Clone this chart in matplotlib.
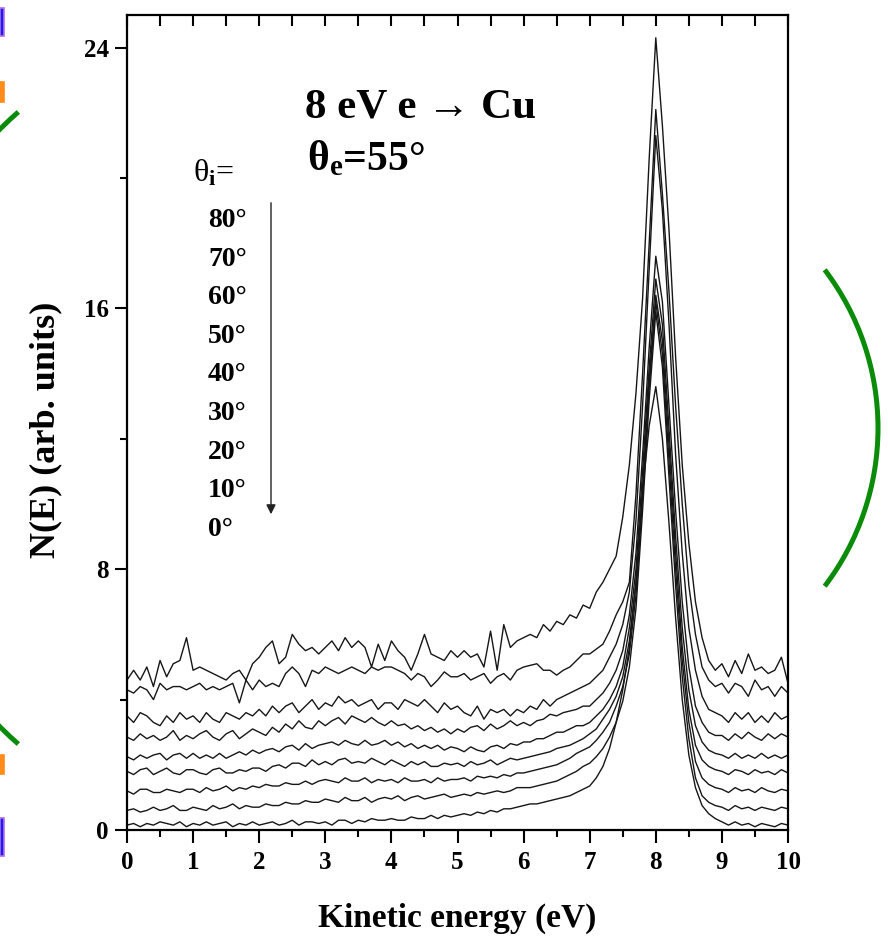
import numpy as np
import matplotlib
matplotlib.use("Agg")
import matplotlib.pyplot as plt
from matplotlib.patches import Arc, Rectangle, FancyArrowPatch
from matplotlib.ticker import MultipleLocator

# ---------------- data ----------------
energy = np.linspace(0.0, 10.0, 101)          # kinetic energy grid (eV)
angles = [80, 70, 60, 50, 40, 30, 20, 10, 0]  # incidence angles (deg)

n80 = [4.6, 4.9, 4.6, 5.0, 4.4, 5.2, 4.7, 5.1, 5.2, 5.9,
       4.9, 5.0, 4.9, 4.8, 4.7, 4.6, 4.8, 4.9, 4.6, 5.1,
       5.3, 5.6, 5.8, 5.1, 5.3, 6.0, 5.7, 5.5, 5.6, 5.4,
       5.6, 5.8, 5.5, 5.9, 5.6, 5.8, 5.6, 5.0, 5.7, 5.2,
       5.8, 5.5, 5.3, 4.9, 5.4, 6.0, 5.4, 5.3, 5.2, 5.5,
       5.3, 5.5, 5.3, 5.4, 5.0, 6.1, 4.9, 6.3, 5.6, 5.8,
       5.9, 6.0, 5.9, 6.3, 6.1, 6.4, 6.3, 6.6, 6.5, 6.9,
       6.8, 7.3, 7.6, 8.0, 8.4, 9.6, 11.2, 13.4, 16.3, 20.6,
       24.3, 21.6, 18.4, 14.5, 11.2, 8.8, 7.0, 5.9, 5.2, 4.9,
       5.1, 4.7, 5.2, 4.8, 5.4, 4.9, 5.0, 4.8, 4.9, 5.3,
       4.5]
n70 = [4.3, 4.2, 4.4, 4.3, 4.0, 4.5, 4.3, 4.4, 4.4, 4.3,
       4.4, 4.5, 4.3, 4.4, 4.3, 4.4, 4.5, 3.9, 4.6, 4.3,
       4.6, 4.4, 4.5, 4.4, 4.8, 5.0, 4.8, 4.4, 4.9, 4.8,
       5.0, 4.9, 4.8, 4.9, 5.0, 4.9, 4.8, 5.0, 4.9, 5.0,
       5.0, 4.9, 4.8, 4.6, 4.8, 4.7, 4.4, 4.6, 4.85, 4.7,
       4.7, 4.8, 4.6, 4.7, 4.8, 4.5, 4.7, 4.8, 4.6, 4.9,
       5.0, 5.05, 5.1, 4.9, 4.9, 4.75, 4.9, 5.0, 5.2, 5.4,
       5.4, 5.55, 5.7, 6.1, 6.6, 7.0, 7.6, 10.3, 14.0, 18.0,
       22.1, 19.5, 16.5, 13.0, 10.0, 7.5, 6.0, 5.0, 4.6, 4.4,
       4.5, 4.2, 4.5, 4.4, 4.1, 4.6, 4.3, 4.4, 4.1, 4.4,
       4.2]
n60 = [3.5, 3.3, 3.6, 3.5, 3.3, 3.2, 3.5, 3.3, 3.6, 3.4,
       3.5, 3.3, 3.6, 3.4, 3.3, 3.6, 3.5, 3.4, 3.6, 3.5,
       3.7, 3.5, 3.8, 3.6, 3.8, 3.9, 3.6, 3.8, 4.0, 3.7,
       3.9, 3.8, 4.1, 3.9, 4.0, 3.8, 3.9, 4.0, 3.7, 3.9,
       3.9, 3.7, 4.0, 3.9, 3.8, 4.0, 3.8, 3.6, 3.9, 3.7,
       3.8, 3.6, 3.5, 3.8, 3.4, 3.7, 3.6, 3.7, 3.5, 3.7,
       3.6, 3.8, 3.7, 4.0, 3.8, 4.0, 4.1, 4.2, 4.3, 4.4,
       4.5, 4.7, 4.9, 5.3, 5.7, 6.3, 7.3, 9.5, 13.0, 17.2,
       21.3, 19.0, 15.5, 11.5, 8.5, 6.2, 4.9, 4.1, 3.7, 3.6,
       3.5, 3.3, 3.6, 3.4, 3.6, 3.3, 3.5, 3.3, 3.6, 3.4,
       3.5]
n50 = [2.85, 2.75, 2.95, 2.8, 2.9, 2.75, 2.85, 3.05, 2.75, 2.9,
       2.8, 2.95, 3.05, 2.85, 2.75, 2.95, 3.05, 2.8, 2.95, 3.1,
       3.0, 2.9, 3.15, 3.0, 3.25, 3.1, 3.35, 3.15, 3.1, 3.35,
       3.2, 3.35, 3.45, 3.25, 3.5, 3.4, 3.3, 3.45, 3.3, 3.2,
       3.35, 3.2, 3.25, 3.1, 3.2, 3.05, 3.15, 3.0, 3.1, 2.95,
       3.1, 3.0, 3.15, 3.2, 3.05, 3.25, 3.1, 3.2, 3.35, 3.2,
       3.3, 3.2, 3.35, 3.4, 3.55, 3.5, 3.6, 3.65, 3.7, 3.8,
       3.8, 4.0, 4.2, 4.5, 4.9, 5.5, 6.6, 8.5, 11.5, 14.8,
       17.6, 16.2, 13.0, 9.8, 7.0, 5.0, 3.8, 3.3, 3.0, 2.9,
       2.9, 2.75, 2.95, 2.8, 3.0, 2.85, 2.75, 2.95, 2.8, 2.95,
       2.85]
n40 = [2.25, 2.15, 2.3, 2.2, 2.3, 2.35, 2.15, 2.3, 2.35, 2.2,
       2.35, 2.2, 2.3, 2.2, 2.35, 2.2, 2.3, 2.4, 2.3, 2.45,
       2.35, 2.45, 2.5, 2.4, 2.55, 2.6, 2.45, 2.65, 2.5, 2.6,
       2.65, 2.7, 2.6, 2.75, 2.65, 2.6, 2.75, 2.6, 2.65, 2.75,
       2.6, 2.7, 2.55, 2.65, 2.5, 2.6, 2.5, 2.6, 2.45, 2.55,
       2.5, 2.4, 2.55, 2.45, 2.4, 2.55, 2.6, 2.5, 2.65, 2.6,
       2.7, 2.7, 2.8, 2.8, 2.9, 3.0, 3.0, 3.1, 3.2, 3.2,
       3.3, 3.5, 3.7, 4.0, 4.4, 5.0, 6.2, 8.0, 11.0, 14.2,
       16.9, 15.5, 12.3, 9.0, 6.2, 4.3, 3.2, 2.7, 2.45, 2.35,
       2.3, 2.2, 2.35, 2.2, 2.3, 2.2, 2.35, 2.2, 2.3, 2.2,
       2.3]
n30 = [1.8, 1.7, 1.85, 1.9, 1.7, 1.8, 1.9, 1.75, 1.7, 1.85,
       1.85, 1.75, 1.7, 1.85, 1.9, 1.75, 1.75, 1.85, 1.8, 1.9,
       1.9, 1.8, 1.95, 2.0, 1.9, 2.05, 2.05, 1.95, 2.15, 2.0,
       2.1, 2.0, 2.15, 2.2, 2.05, 2.1, 2.05, 2.2, 2.1, 2.0,
       2.15, 2.05, 1.95, 2.1, 2.0, 2.1, 1.95, 1.95, 2.05, 2.0,
       2.05, 1.95, 2.1, 2.0, 2.05, 2.15, 2.0, 2.1, 2.2, 2.15,
       2.2, 2.25, 2.3, 2.35, 2.4, 2.5, 2.55, 2.6, 2.7, 2.8,
       2.95, 3.1, 3.4, 3.7, 4.1, 4.7, 5.8, 7.6, 10.5, 13.8,
       16.4, 15.0, 11.8, 8.5, 5.6, 3.7, 2.6, 2.15, 1.95, 1.85,
       1.8, 1.7, 1.85, 1.8, 1.7, 1.85, 1.75, 1.8, 1.7, 1.85,
       1.75]
n20 = [1.2, 1.1, 1.25, 1.25, 1.15, 1.15, 1.25, 1.2, 1.15, 1.25,
       1.25, 1.15, 1.3, 1.2, 1.25, 1.35, 1.2, 1.3, 1.25, 1.35,
       1.3, 1.4, 1.35, 1.35, 1.45, 1.4, 1.4, 1.5, 1.4, 1.5,
       1.55, 1.5, 1.45, 1.6, 1.5, 1.5, 1.6, 1.45, 1.55, 1.5,
       1.55, 1.45, 1.6, 1.5, 1.5, 1.55, 1.45, 1.6, 1.5, 1.55,
       1.55, 1.6, 1.5, 1.65, 1.6, 1.65, 1.6, 1.7, 1.65, 1.75,
       1.75, 1.8, 1.85, 1.9, 1.95, 2.0, 2.1, 2.2, 2.35, 2.45,
       2.55, 2.75, 3.0, 3.3, 3.8, 4.4, 5.4, 7.2, 10.2, 13.6,
       16.2, 14.6, 11.3, 8.0, 5.2, 3.3, 2.1, 1.6, 1.4, 1.3,
       1.25, 1.15, 1.3, 1.2, 1.25, 1.15, 1.3, 1.2, 1.15, 1.25,
       1.2]
n10 = [0.6, 0.65, 0.55, 0.6, 0.7, 0.6, 0.65, 0.75, 0.6, 0.6,
       0.7, 0.65, 0.6, 0.75, 0.65, 0.7, 0.8, 0.65, 0.75, 0.7,
       0.7, 0.8, 0.75, 0.75, 0.85, 0.8, 0.8, 0.9, 0.85, 0.85,
       0.95, 0.9, 0.85, 1.0, 0.9, 0.9, 1.0, 0.85, 0.95, 1.0,
       0.95, 1.05, 0.9, 1.0, 1.05, 0.95, 1.0, 1.05, 1.1, 1.0,
       1.05, 1.1, 1.05, 1.15, 1.1, 1.15, 1.2, 1.15, 1.2, 1.3,
       1.3, 1.3, 1.35, 1.4, 1.45, 1.5, 1.6, 1.7, 1.8, 1.95,
       2.05, 2.25, 2.5, 2.85, 3.3, 3.95, 5.0, 6.8, 9.8, 13.2,
       15.9, 14.2, 10.8, 7.5, 4.7, 2.8, 1.6, 1.05, 0.85, 0.75,
       0.7, 0.6, 0.75, 0.65, 0.7, 0.6, 0.7, 0.65, 0.6, 0.7,
       0.65]
n0 = [0.15, 0.2, 0.1, 0.2, 0.15, 0.25, 0.2, 0.15, 0.25, 0.1,
      0.2, 0.15, 0.25, 0.15, 0.2, 0.25, 0.1, 0.2, 0.15, 0.25,
      0.15, 0.2, 0.25, 0.15, 0.2, 0.3, 0.15, 0.25, 0.25, 0.2,
      0.25, 0.15, 0.3, 0.3, 0.2, 0.3, 0.25, 0.35, 0.3, 0.3,
      0.35, 0.3, 0.3, 0.4, 0.35, 0.35, 0.45, 0.35, 0.45, 0.4,
      0.45, 0.5, 0.45, 0.55, 0.5, 0.6, 0.55, 0.65, 0.65, 0.7,
      0.75, 0.8, 0.8, 0.85, 0.9, 0.95, 1.0, 1.05, 1.15, 1.25,
      1.35, 1.6, 1.95, 2.5, 3.3, 4.3, 5.6, 7.6, 10.4, 12.4,
      13.6, 12.0, 9.4, 6.5, 4.0, 2.3, 1.3, 0.75, 0.5, 0.35,
      0.25, 0.15, 0.25, 0.15, 0.2, 0.1, 0.2, 0.15, 0.1, 0.2,
      0.15]
spectra = [n80, n70, n60, n50, n40, n30, n20, n10, n0]

x_ticks = [0, 1, 2, 3, 4, 5, 6, 7, 8, 9, 10]
y_ticks = [0, 8, 16, 24]

# ---------------- style ----------------
plt.rcParams['font.family'] = ['Liberation Serif', 'DejaVu Serif']
plt.rcParams['font.weight'] = 'bold'
plt.rcParams['mathtext.fontset'] = 'custom'
plt.rcParams['mathtext.bf'] = 'Liberation Serif:bold'
plt.rcParams['mathtext.rm'] = 'Liberation Serif:bold'
plt.rcParams['mathtext.default'] = 'bf'

W, H = 888, 946
fig = plt.figure(figsize=(W / 100, H / 100), dpi=100)
fig.patch.set_facecolor('white')

def fx(px):
    return px / W

def fy(py):
    return 1 - py / H

ax = fig.add_axes([fx(127), fy(830), fx(788) - fx(127), fy(15) - fy(830)])

for vals in spectra:
    ax.plot(energy, vals, color='#161616', lw=1.0)

ax.set_xlim(0, 10)
ax.set_ylim(0, 25.0)
ax.set_xticks(x_ticks)
ax.set_yticks(y_ticks)
ax.xaxis.set_minor_locator(MultipleLocator(0.5))
ax.yaxis.set_minor_locator(MultipleLocator(4))

for s in ax.spines.values():
    s.set_linewidth(1.6)

ax.tick_params(axis='x', which='major', direction='out', length=9, width=1.5,
               labelsize=18, pad=6, top=True)
ax.tick_params(axis='x', which='minor', direction='out', length=5, width=1.5, top=True)
ax.tick_params(axis='y', which='major', direction='out', length=9, width=1.5,
               labelsize=18, pad=4)
ax.tick_params(axis='y', which='minor', direction='out', length=5, width=1.5)
# top ticks point inward
for t in ax.xaxis.get_major_ticks() + ax.xaxis.get_minor_ticks():
    t.tick2line.set_marker(3)
    t.tick2line.set_markersize(8)

ax.set_xlabel('Kinetic energy (eV)', fontsize=24, fontweight='bold')
ax.xaxis.set_label_coords(0.5, -(903 - 830) / 815)
ax.set_ylabel('N(E) (arb. units)', fontsize=26, fontweight='bold')
ax.yaxis.set_label_coords((62 - 127) / 661, (830 - 430) / 815)

# annotations
fig.text(fx(305), fy(117), '8 eV e \u2192 Cu', fontsize=31, fontweight='bold', va='baseline')
fig.text(fx(307), fy(170), '\u03b8$_\\mathbf{e}$=55\u00b0', fontsize=30, fontweight='bold', va='baseline')

fig.text(fx(193), fy(181), '\u03b8$_\\mathbf{i}$=', fontsize=23, fontweight='normal', va='baseline')
for k, a in enumerate(angles):
    fig.text(fx(208), fy(227 + k * 38.6), f'{a}\u00b0', fontsize=20, fontweight='bold', va='baseline')

fig.add_artist(FancyArrowPatch((fx(271), fy(200)), (fx(271), fy(517)), transform=fig.transFigure,
                               arrowstyle='-|>', mutation_scale=14, lw=1.0, color='#222222'))

# slide decorations around the figure
green = '#0a8c0a'
R = 261.5
fig.add_artist(Arc((fx(616.5), fy(428)), 2 * R / W, 2 * R / H, theta1=-35.5, theta2=35.5,
                   transform=fig.transFigure, color=green, lw=3.6))
R2 = 420
fig.add_artist(Arc((fx(295), fy(428)), 2 * R2 / W, 2 * R2 / H, theta1=133, theta2=227,
                   transform=fig.transFigure, color=green, lw=3.6, clip_on=False))
for (y0, y1, c, ec) in [(8, 36, '#1a1aff', '#b070e0'), (82, 102, '#ff8c1a', '#ff8c1a'),
                        (755, 774, '#ff8c1a', '#ff8c1a'), (818, 856, '#1a1aff', '#b070e0')]:
    fig.add_artist(Rectangle((0, fy(y1)), fx(4), fy(y0) - fy(y1), transform=fig.transFigure,
                             facecolor=c, edgecolor=ec, lw=1.2))

fig.savefig('out.png', dpi=100)
